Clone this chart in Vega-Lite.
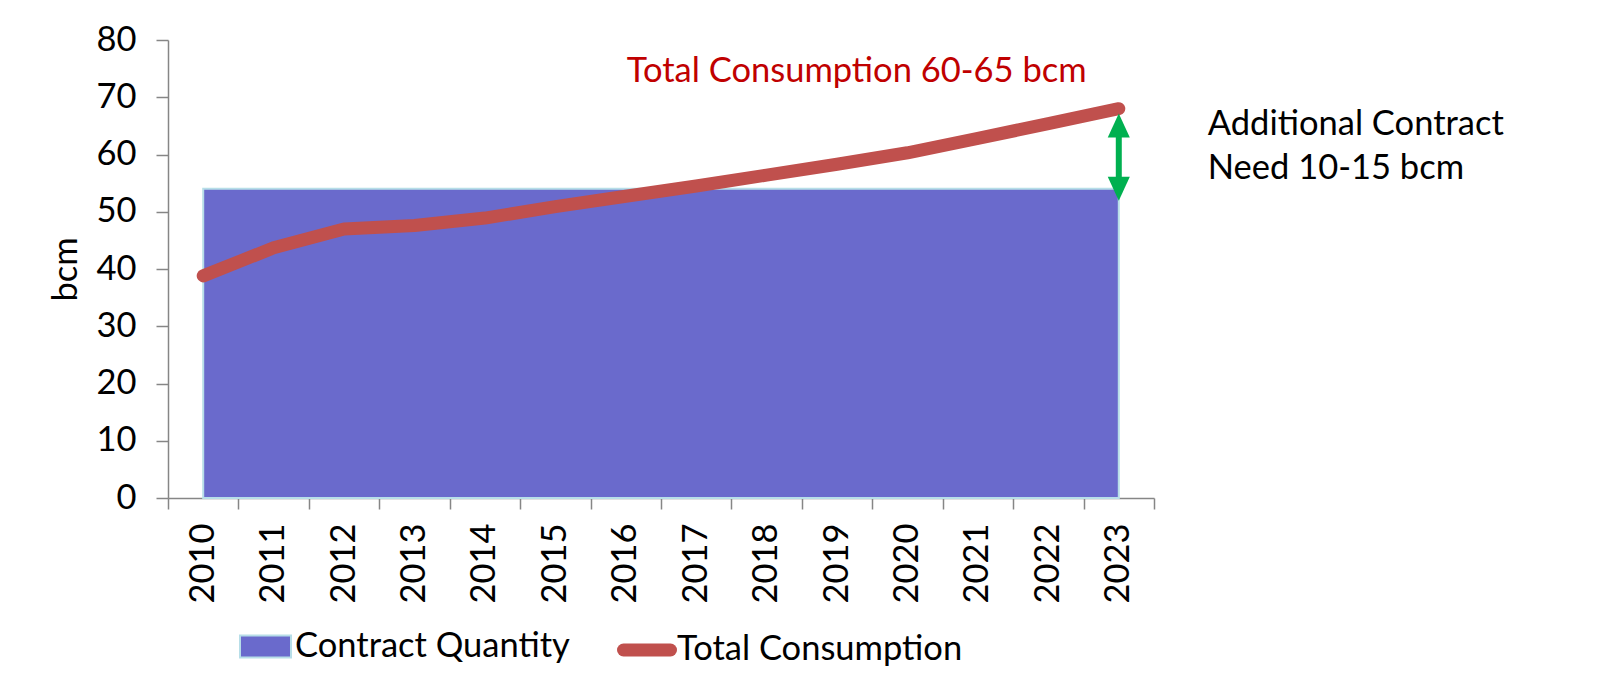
{
  "$schema": "https://vega.github.io/schema/vega-lite/v6.json",
  "width": 986,
  "height": 458,
  "autosize": {"type": "none"},
  "padding": {"left": 168, "top": 40, "right": 463, "bottom": 189},
  "background": "white",
  "config": {
    "view": {"stroke": null},
    "font": "Lato",
    "axis": {"grid": false, "domainColor": "#868686", "tickColor": "#868686", "domainWidth": 1.5, "tickWidth": 1.5, "labelFont": "Lato", "labelFontSize": 34.5, "labelColor": "#000000", "titleFont": "Lato", "titleFontSize": 34.5, "titleFontWeight": "normal", "titleColor": "#000000"},
    "legend": {"labelFont": "Lato", "labelFontSize": 34.5, "labelColor": "#000000", "padding": 0, "labelLimit": 1000}
  },
  "datasets": {
    "contract": [
      {"year": "2010", "series": "Contract Quantity", "value": 54},
      {"year": "2011", "series": "Contract Quantity", "value": 54},
      {"year": "2012", "series": "Contract Quantity", "value": 54},
      {"year": "2013", "series": "Contract Quantity", "value": 54},
      {"year": "2014", "series": "Contract Quantity", "value": 54},
      {"year": "2015", "series": "Contract Quantity", "value": 54},
      {"year": "2016", "series": "Contract Quantity", "value": 54},
      {"year": "2017", "series": "Contract Quantity", "value": 54},
      {"year": "2018", "series": "Contract Quantity", "value": 54},
      {"year": "2019", "series": "Contract Quantity", "value": 54},
      {"year": "2020", "series": "Contract Quantity", "value": 54},
      {"year": "2021", "series": "Contract Quantity", "value": 54},
      {"year": "2022", "series": "Contract Quantity", "value": 54},
      {"year": "2023", "series": "Contract Quantity", "value": 54}
    ],
    "consumption": [
      {"year": "2010", "series": "Total Consumption", "value": 38.8},
      {"year": "2011", "series": "Total Consumption", "value": 43.7},
      {"year": "2012", "series": "Total Consumption", "value": 47.0},
      {"year": "2013", "series": "Total Consumption", "value": 47.6},
      {"year": "2014", "series": "Total Consumption", "value": 48.9},
      {"year": "2015", "series": "Total Consumption", "value": 50.9},
      {"year": "2016", "series": "Total Consumption", "value": 52.7},
      {"year": "2017", "series": "Total Consumption", "value": 54.5},
      {"year": "2018", "series": "Total Consumption", "value": 56.4},
      {"year": "2019", "series": "Total Consumption", "value": 58.3},
      {"year": "2020", "series": "Total Consumption", "value": 60.3},
      {"year": "2021", "series": "Total Consumption", "value": 62.8},
      {"year": "2022", "series": "Total Consumption", "value": 65.4},
      {"year": "2023", "series": "Total Consumption", "value": 68.0}
    ]
  },
  "encoding": {
    "x": {
      "field": "year", "type": "ordinal",
      "scale": {"type": "band", "paddingInner": 0, "paddingOuter": 0, "domain": ["2010","2011","2012","2013","2014","2015","2016","2017","2018","2019","2020","2021","2022","2023"]},
      "axis": {"title": null, "labelAngle": -90, "tickBand": "extent", "tickSize": 11, "labelPadding": 14}
    }
  },
  "layer": [
    {
      "data": {"name": "contract"},
      "mark": {"type": "area", "opacity": 1, "stroke": "#B7DEE8", "strokeWidth": 2},
      "encoding": {
        "y": {"field": "value", "type": "quantitative", "scale": {"domain": [0, 80], "nice": false}, "axis": {"title": "bcm", "values": [0,10,20,30,40,50,60,70,80], "tickSize": 12, "labelPadding": 20, "titlePadding": 12}},
        "fill": {"field": "series", "type": "nominal", "scale": {"range": ["#6A6ACC"]}, "legend": {"title": null, "orient": "none", "legendX": 71, "legendY": 580, "symbolType": "M-1,-0.43H1V0.43H-1Z", "symbolSize": 2601, "symbolStrokeColor": "#B7DEE8", "symbolStrokeWidth": 2, "symbolOpacity": 1, "labelOffset": 3}}
      }
    },
    {
      "data": {"name": "consumption"},
      "mark": {"type": "line", "strokeWidth": 13, "strokeCap": "round", "strokeJoin": "round"},
      "encoding": {
        "y": {"field": "value", "type": "quantitative"},
        "stroke": {"field": "series", "type": "nominal", "scale": {"range": ["#C0504D"]}, "legend": {"title": null, "orient": "none", "legendX": 449, "legendY": 580, "symbolType": "stroke", "symbolSize": 2209, "symbolStrokeWidth": 13, "labelOffset": 0, "encode": {"symbols": {"update": {"strokeCap": {"value": "round"}}}}}}
      }
    },
    {
      "data": {"values": [{"t": "Total Consumption 60-65 bcm"}]},
      "mark": {"type": "text", "align": "left", "baseline": "alphabetic", "dx": 1, "fontSize": 34.5, "color": "#C00000"},
      "encoding": {"x": {"datum": "2016"}, "y": {"datum": 72.66}, "text": {"field": "t"}}
    },
    {
      "data": {"values": [{"t": ["Additional Contract", "Need 10-15 bcm"]}]},
      "mark": {"type": "text", "align": "left", "baseline": "alphabetic", "dx": 89, "fontSize": 34.5, "lineHeight": 44, "color": "#000000"},
      "encoding": {"x": {"datum": "2023"}, "y": {"datum": 63.4}, "text": {"field": "t"}}
    },
    {
      "data": {"values": [{"a": 1}]},
      "mark": {"type": "rule", "strokeWidth": 6, "color": "#00B050"},
      "encoding": {"x": {"datum": "2023"}, "y": {"datum": 64}, "y2": {"datum": 55}}
    },
    {
      "data": {"values": [{"a": 1}]},
      "mark": {"type": "point", "shape": "M0,-1L-0.92,1L0.92,1Z", "size": 576, "filled": true, "opacity": 1, "color": "#00B050"},
      "encoding": {"x": {"datum": "2023"}, "y": {"datum": 65.07}}
    },
    {
      "data": {"values": [{"a": 1}]},
      "mark": {"type": "point", "shape": "M0,1L-0.92,-1L0.92,-1Z", "size": 576, "filled": true, "opacity": 1, "color": "#00B050"},
      "encoding": {"x": {"datum": "2023"}, "y": {"datum": 54.0}}
    }
  ],
  "resolve": {"scale": {"fill": "independent", "stroke": "independent"}}
}
